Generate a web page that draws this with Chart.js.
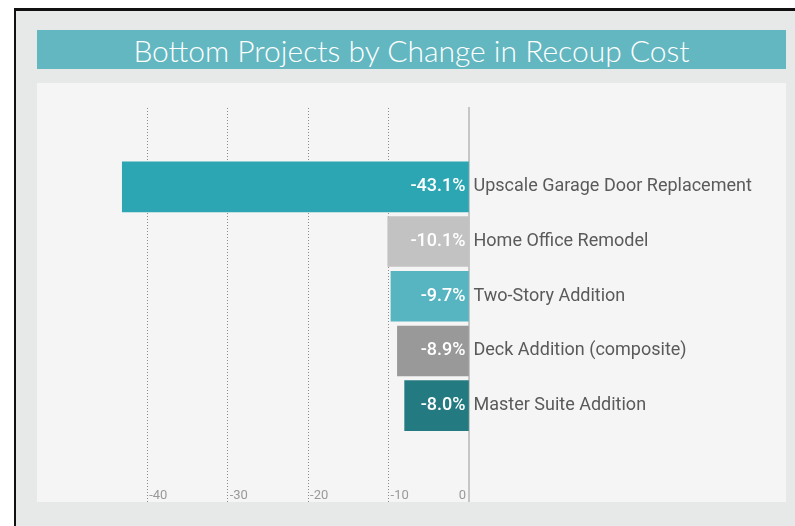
<!DOCTYPE html>
<html>
<head>
<meta charset="utf-8">
<script src="https://cdn.jsdelivr.net/npm/chart.js@4"></script>
<style>
  html, body { margin: 0; padding: 0; background: #ffffff; }
  #frame {
    position: absolute; left: 14px; top: 8px; width: 781px; height: 518px;
    background: #e7e8e8; border-left: 2px solid #111; border-top: 3px solid #111;
    box-sizing: border-box;
  }
  #title {
    position: absolute; left: 37px; top: 30px; width: 749px; height: 39px;
    background: #63b7c1; color: #ffffff; text-align: center;
    font-family: Lato, sans-serif; font-size: 30px; line-height: 40px; font-weight: 300;
  }
  #panel {
    position: absolute; left: 37px; top: 83px; width: 749px; height: 419px;
    background: #f5f5f5;
  }
</style>
</head>
<body>
<div id="frame"></div>
<div id="title">Bottom Projects by Change in Recoup Cost</div>
<div id="panel"><canvas id="recoup"></canvas></div>
<script>
// dados
const projetos = ['Upscale Garage Door Replacement', 'Home Office Remodel', 'Two-Story Addition', 'Deck Addition (composite)', 'Master Suite Addition'];
const variacao = [-43.1, -10.1, -9.7, -8.9, -8.0];
const cores = ['#2ba6b2', '#c2c2c2', '#57b5c1', '#999999', '#237b81'];
const ticksX = [-40, -30, -20, -10, 0];

// rotulos: valor dentro da barra, nome a direita
const rotulos = {
    id: 'rotulos',
    afterDatasetsDraw(chart) {
        const ctx = chart.ctx;
        const meta = chart.getDatasetMeta(0);
        ctx.save();
        ctx.textBaseline = 'middle';
        meta.data.forEach((bar, i) => {
            ctx.font = '500 18px Roboto, sans-serif';
            ctx.fillStyle = '#ffffff';
            ctx.textAlign = 'right';
            ctx.fillText(variacao[i].toFixed(1) + '%', bar.base - 3, bar.y);
            ctx.font = '18px Roboto, sans-serif';
            ctx.fillStyle = '#5a5a5a';
            ctx.textAlign = 'left';
            ctx.fillText(projetos[i], bar.base + 5, bar.y);
        });
        // ticks do eixo x
        const sx = chart.scales.x;
        ctx.font = '13px Roboto, sans-serif';
        ctx.fillStyle = '#999999';
        ctx.textBaseline = 'alphabetic';
        ticksX.forEach(t => {
            const px = sx.getPixelForValue(t);
            if (t === 0) {
                ctx.textAlign = 'right';
                ctx.fillText('0', px - 3, chart.chartArea.bottom - 3);
            } else {
                ctx.textAlign = 'left';
                ctx.fillText(String(t), px + 2, chart.chartArea.bottom - 3);
            }
        });
        ctx.restore();
    }
};

const Recoup = document.getElementById('recoup');

new Chart(Recoup, {
    type: 'bar',
    data: {
        datasets: [{
            data: variacao.map((v, i) => ({ x: v, y: i })),
            backgroundColor: cores,
            barThickness: 50,
            borderWidth: 0
        }]
    },
    options: {
        indexAxis: 'y',
        responsive: true,
        maintainAspectRatio: false,
        animation: false,
        layout: { padding: { left: 70, right: 317, top: 25, bottom: 0 } },
        scales: {
            x: {
                type: 'linear',
                min: -45,
                max: 0,
                afterBuildTicks: (s) => { s.ticks = ticksX.map(v => ({ value: v })); },
                ticks: { display: false },
                border: { display: false, dash: [1, 2] },
                grid: {
                    color: (c) => c.tick && c.tick.value === 0 ? 'rgba(0,0,0,0)' : '#8c8c8c',
                    lineWidth: 1,
                    drawTicks: false
                }
            },
            y: {
                type: 'linear',
                position: 'right',
                reverse: true,
                offset: false,
                min: -1.44,
                max: 5.76,
                ticks: { display: false },
                grid: { display: false, drawTicks: false },
                border: { display: true, color: '#c6c6c6', width: 2 }
            }
        },
        plugins: {
            legend: { display: false },
            tooltip: { enabled: false }
        }
    },
    plugins: [rotulos]
});
</script>
</body>
</html>
